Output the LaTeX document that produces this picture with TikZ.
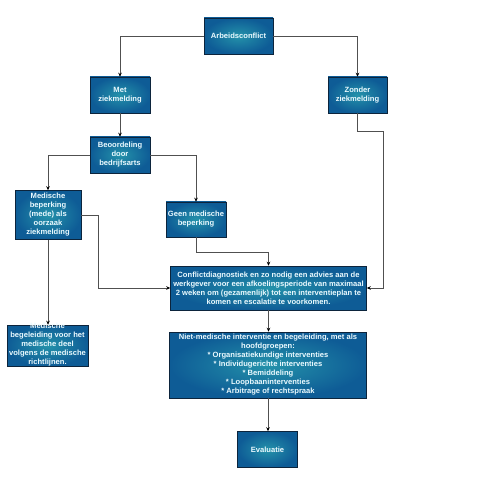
\documentclass[tikz,border=0pt]{standalone}
\usepackage{fontspec}
\setmainfont{Liberation Sans}
\usetikzlibrary{arrows.meta}
\definecolor{boxin}{RGB}{36,146,170}
\definecolor{boxout}{RGB}{14,92,150}
\definecolor{boxedge}{RGB}{12,36,60}
\definecolor{linec}{RGB}{80,80,80}
\definecolor{txt}{RGB}{235,250,255}
\begin{document}
\begin{tikzpicture}[x=1pt,y=-1pt,
  box/.style={draw=boxedge, line width=0.6pt, inner color=boxin, outer color=boxout,
    text=txt, font=\fontsize{7.6}{9}\selectfont\bfseries, align=center, inner sep=1pt},
  conn/.style={draw=linec, line width=0.7pt, -{Stealth[black,length=4pt,width=3.6pt]}}]
\fill[white] (0,0) rectangle (500,494);
\useasboundingbox (0,0) rectangle (500,494);
\node[box, minimum width=69pt, minimum height=36pt] (a) at (238.5,36) {Arbeidsconflict};
\node[box, minimum width=60pt, minimum height=36pt] (met) at (120,95) {Met\\ziekmelding};
\node[box, minimum width=59pt, minimum height=36pt] (zonder) at (357.5,95) {Zonder\\ziekmelding};
\node[box, minimum width=60pt, minimum height=36pt] (beo) at (120,155) {Beoordeling\\door\\bedrijfsarts};
\node[box, minimum width=66pt, minimum height=49pt] (medb) at (48,215) {Medische\\beperking\\(mede) als\\oorzaak\\ziekmelding};
\node[box, minimum width=60pt, minimum height=35pt] (geen) at (196,219.5) {Geen medische\\beperking};
\node[box, minimum width=196pt, minimum height=44pt] (conf) at (268.5,288) {Conflictdiagnostiek en zo nodig een advies aan de\\werkgever voor een afkoelingsperiode van maximaal\\2 weken om (gezamenlijk) tot een interventieplan te\\komen en escalatie te voorkomen.};
\node[box, minimum width=81pt, minimum height=41pt] (mbeg) at (47.5,345.5) {\raisebox{-2pt}{\smash{\begin{tabular}{@{}c@{}}Medische\\begeleiding voor het\\medische deel\\volgens de medische\\richtlijnen.\end{tabular}}}};
\node[box, minimum width=197pt, minimum height=66pt] (niet) at (268,365) {Niet-medische interventie en begeleiding, met als\\hoofdgroepen:\\* Organisatiekundige interventies\\* Individugerichte interventies\\* Bemiddeling\\* Loopbaaninterventies\\* Arbitrage of rechtspraak};
\node[box, minimum width=60pt, minimum height=36pt] (eval) at (267.5,449.5) {Evaluatie};
\coordinate (zr) at (383,0);
\draw[conn] (a.west) -| (met.north);
\draw[conn] (a.east) -| (zonder.north);
\draw[conn] (met.south) -- (beo.north);
\draw[conn] (beo.west) -| (medb.north);
\draw[conn] (beo.east) -| (geen.north);
\draw[conn] (medb.east) -- ++(17,0) |- (conf.west);
\draw[conn] (medb.south) -- (medb.south |- mbeg.north);
\draw[conn] (geen.south) -- ++(0,15) -| (conf.north);
\draw[conn] (zonder.south) -- ++(0,18) -| (conf.east -| zr) -- (conf.east);
\draw[conn] (conf.south) -- (conf.south |- niet.north);
\draw[conn] (niet.south) -- (niet.south |- eval.north);
\end{tikzpicture}
\end{document}
